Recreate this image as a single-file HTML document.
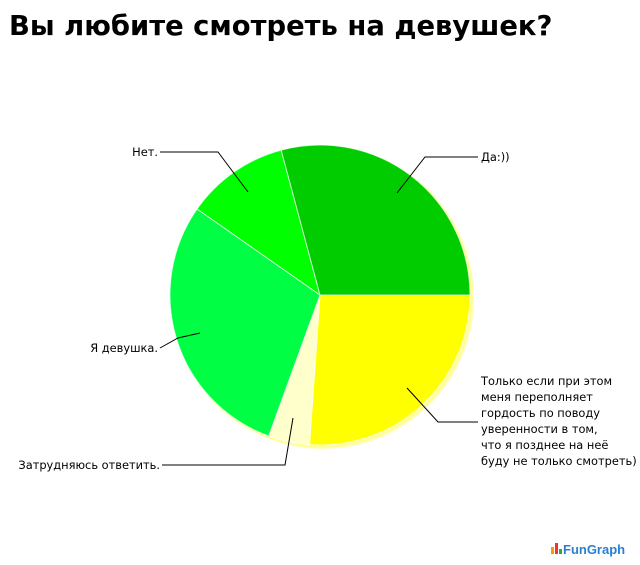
<!DOCTYPE html>
<html><head><meta charset="utf-8"><style>
body{margin:0;background:#fff;width:640px;height:565px;overflow:hidden}
</style></head><body>
<svg width="640" height="565" xmlns="http://www.w3.org/2000/svg" style="position:absolute;left:0;top:0">
<text x="9" y="35" font-family="DejaVu Sans, sans-serif" font-weight="bold" font-size="27.4" fill="#000">Вы любите смотреть на девушек?</text>
<circle cx="323" cy="298" r="151" fill="#ffffb0" opacity="0.8"/>
<circle cx="322" cy="297" r="151" fill="#ffff80" opacity="0.6"/>
<g stroke="#fff" stroke-width="1" stroke-opacity="0.7">
<path d="M320,295 L470,295 A150,150 0 0,1 309.5,444.6 Z" fill="#ffff00"/>
<path d="M320,295 L309.5,444.6 A150,150 0 0,1 268.7,436 Z" fill="#ffffcc"/>
<path d="M320,295 L268.7,436 A150,150 0 0,1 197.1,209 Z" fill="#00ff44"/>
<path d="M320,295 L197.1,209 A150,150 0 0,1 281.2,150.1 Z" fill="#00ff00"/>
<path d="M320,295 L281.2,150.1 A150,150 0 0,1 470,295 Z" fill="#00cc00"/>
</g>
<g stroke="#000" stroke-width="1" fill="none">
<polyline points="397,193 425,157 478,157"/>
<polyline points="160,152 218,152 248,192"/>
<polyline points="160,348 178,338 200,333"/>
<polyline points="162,465 285,465 293,418"/>
<polyline points="407,388 438,422 478,422"/>
</g>
<g font-family="DejaVu Sans, sans-serif" font-size="11.4" fill="#000">
<text x="481" y="161">Да:))</text>
<text x="158" y="156" text-anchor="end">Нет.</text>
<text x="158" y="352" text-anchor="end">Я девушка.</text>
<text x="160" y="469" text-anchor="end">Затрудняюсь ответить.</text>
<text x="481" y="385">Только если при этом</text>
<text x="481" y="401">меня переполняет</text>
<text x="481" y="417">гордость по поводу</text>
<text x="481" y="433">уверенности в том,</text>
<text x="481" y="449">что я позднее на неё</text>
<text x="481" y="465">буду не только смотреть)</text>
</g>
<rect x="551" y="547" width="3" height="7" fill="#f90"/>
<rect x="555" y="543" width="3" height="11" fill="#e33"/>
<rect x="559" y="549" width="3" height="5" fill="#3a3"/>
<text x="563" y="554" font-family="Liberation Sans, sans-serif" font-weight="bold" font-size="13" fill="#2a7fd4">FunGraph</text>
</svg>
</body></html>
